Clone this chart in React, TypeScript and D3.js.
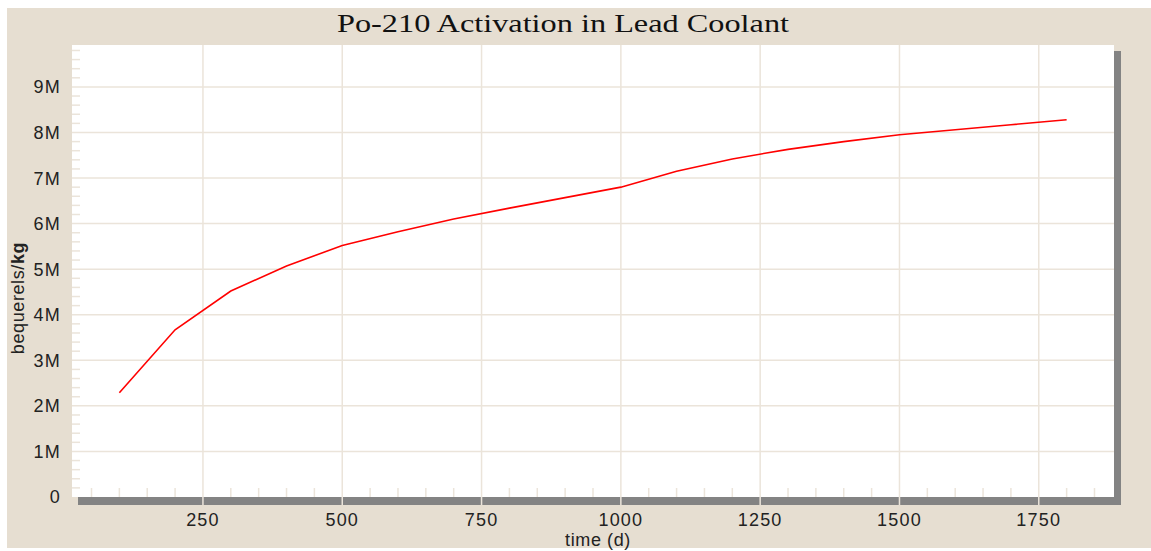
import React from "react";
import * as d3 from "d3";

// time in days, activity in Bq/kg
const days = [100, 200, 300, 400, 500, 600, 700, 800, 900, 1000, 1100, 1200, 1300, 1400, 1500, 1600, 1700, 1800];
const activity = [
  2.29e6, 3.67e6, 4.52e6, 5.07e6, 5.52e6, 5.82e6, 6.1e6, 6.34e6, 6.57e6, 6.8e6, 7.15e6, 7.42e6, 7.63e6, 7.8e6,
  7.95e6, 8.06e6, 8.17e6, 8.28e6
];
const xMajorTicks = [250, 500, 750, 1000, 1250, 1500, 1750];
const yMajorTicks = [0, 1e6, 2e6, 3e6, 4e6, 5e6, 6e6, 7e6, 8e6, 9e6];
const yTickLabels = ["0", "1M", "2M", "3M", "4M", "5M", "6M", "7M", "8M", "9M"];

const W = 1151;
const H = 551;
const plot = { left: 72, top: 45, right: 1114, bottom: 497 };

const BG = "#e6ded1";
const GRID = "#ebe4da";
const SHADOW = "#838383";

export default function App() {
  const x = d3.scaleLinear().domain([15, 1885]).range([plot.left, plot.right]);
  const y = d3.scaleLinear().domain([0, 9.92e6]).range([plot.bottom, plot.top]);

  const points = days.map((d, i) => [d, activity[i]] as [number, number]);
  const line = d3
    .line<[number, number]>()
    .x((d) => x(d[0]))
    .y((d) => y(d[1]));

  const xMinor = d3.range(50, 1851, 50).filter((v) => v % 250 !== 0);
  const yMinor = d3.range(0.2e6, 9.85e6, 0.2e6).filter((v) => Math.abs(v / 1e6 - Math.round(v / 1e6)) > 0.01);

  const pw = plot.right - plot.left;
  const ph = plot.bottom - plot.top;
  const tickFont = { fontFamily: "'Liberation Sans', Arial, sans-serif", fontSize: 18, letterSpacing: 1.2, fill: "#222" };

  return (
    <svg width={W} height={H} style={{ position: "absolute", left: 0, top: 0 }}>
      <rect x={7} y={8} width={W - 7} height={540} fill={BG} />

      <text
        x={563}
        y={32}
        textAnchor="middle"
        fontFamily="'Liberation Serif', 'Times New Roman', serif"
        fontSize={25}
        textLength={452}
        lengthAdjust="spacingAndGlyphs"
        fill="#111"
      >
        Po-210 Activation in Lead Coolant
      </text>

      {/* drop shadow */}
      <rect x={plot.left + 6} y={plot.top + 6} width={pw + 1} height={ph + 2} fill={SHADOW} />
      <rect x={plot.left} y={plot.top} width={pw} height={ph} fill="#fff" />

      {/* grid */}
      {yMajorTicks.slice(1).map((v) => (
        <line key={"gy" + v} x1={plot.left} x2={plot.right} y1={y(v)} y2={y(v)} stroke={GRID} strokeWidth={1.5} />
      ))}
      {xMajorTicks.map((v) => (
        <line key={"gx" + v} x1={x(v)} x2={x(v)} y1={plot.top} y2={plot.bottom + 8} stroke={GRID} strokeWidth={1.5} />
      ))}

      {/* minor ticks */}
      {xMinor.map((v) => (
        <line key={"mx" + v} x1={x(v)} x2={x(v)} y1={plot.bottom - 9} y2={plot.bottom} stroke={GRID} strokeWidth={1.5} />
      ))}
      {yMinor.map((v) => (
        <line key={"my" + v} x1={plot.left} x2={plot.left + 8} y1={y(v)} y2={y(v)} stroke={GRID} strokeWidth={1.5} />
      ))}

      <path d={line(points) ?? ""} fill="none" stroke="#ff0000" strokeWidth={1.6} />

      {/* axis labels */}
      {yMajorTicks.map((v, i) => (
        <text key={"ty" + v} x={61} y={y(v)} dy="0.36em" textAnchor="end" {...tickFont}>
          {yTickLabels[i]}
        </text>
      ))}
      {xMajorTicks.map((v) => (
        <text key={"tx" + v} x={x(v)} y={526} textAnchor="middle" {...tickFont}>
          {v}
        </text>
      ))}

      <text x={598} y={546} textAnchor="middle" {...tickFont} letterSpacing={0.6}>
        time (d)
      </text>
      <text
        transform="translate(24,298) rotate(-90)"
        textAnchor="middle"
        {...tickFont}
        letterSpacing={0.6}
      >
        bequerels/<tspan fontWeight="bold">kg</tspan>
      </text>
    </svg>
  );
}
